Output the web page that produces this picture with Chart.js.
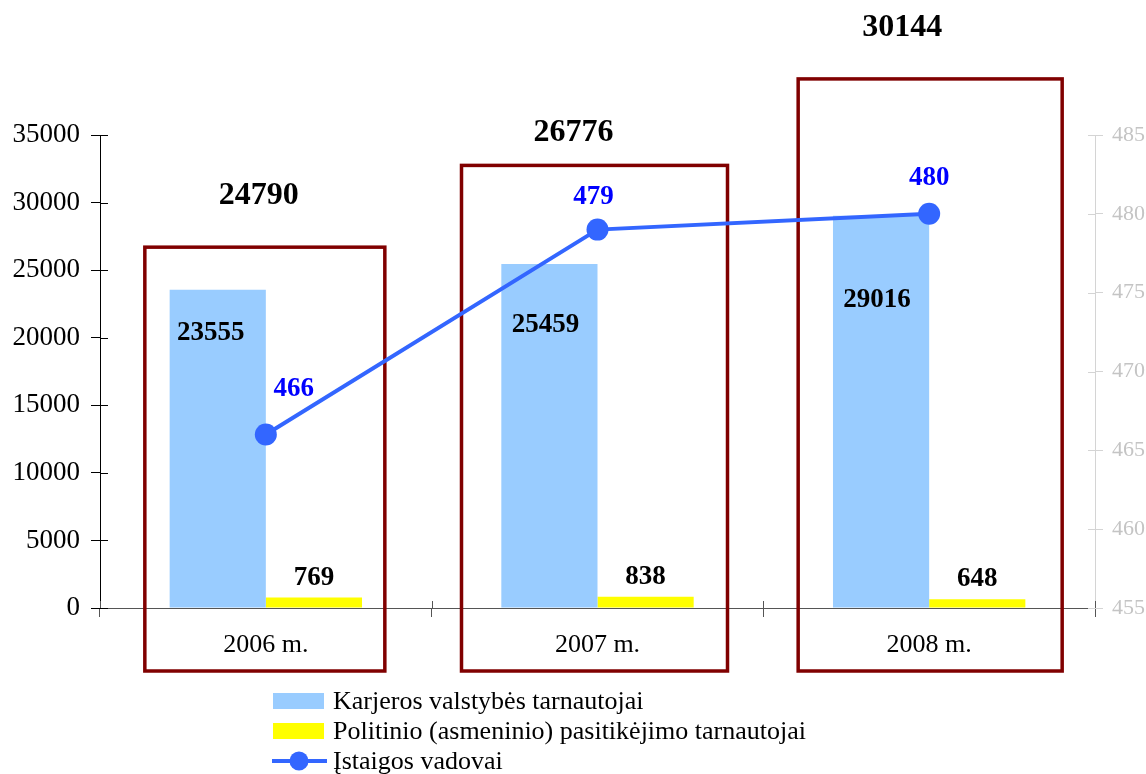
<!DOCTYPE html>
<html><head><meta charset="utf-8">
<script src="https://cdn.jsdelivr.net/npm/chart.js@4/dist/chart.umd.min.js"></script>
<style>html,body{margin:0;padding:0;background:#fff;}</style>
</head><body>
<canvas id="c" width="1146" height="774"></canvas>
<script>
// ---- data ----
const categories = ['2006 m.', '2007 m.', '2008 m.'];
const careerServants = [23555, 25459, 29016];
const politicalServants = [769, 838, 648];
const heads = [466, 479, 480];
const totals = [24790, 26776, 30144];
const seriesNames = ['Karjeros valstybės tarnautojai', 'Politinio (asmeninio) pasitikėjimo tarnautojai', 'Įstaigos vadovai'];
const leftAxis = {min: 0, max: 35000, step: 5000};
const rightAxis = {min: 455, max: 485, step: 5};

// ---- styles ----
const FONT = "'Liberation Serif', 'Times New Roman', serif";
const BLUE_BAR = '#99ccff';
const YELLOW_BAR = '#ffff00';
const LINE = '#3366ff';
const BOX = '#800000';

// decorative boxes and label placement (styling only)
const deco = {
  boxTopValue: [26700, 32750, 39150],
  boxX: [[-121, 119], [-136, 130], [-131, 133]],
  boxBottomBelowAxis: 63,
  totalOffset: [[-7, -51], [-24, -33], [-27, -51]],
  careerOffset: [[-7, 43], [-4, 61], [-4, 84]],
  headOffset: [[28, -46], [-4, -33], [0, -36]]
};

const decoPlugin = {
  id: 'deco',
  beforeDatasetsDraw(chart) {
    const ctx = chart.ctx, x = chart.scales.x, y = chart.scales.y, y1 = chart.scales.y1;
    const ca = chart.chartArea;
    ctx.save();
    // inner halves of the crossing tick marks
    ctx.lineWidth = 1;
    ctx.strokeStyle = '#000';
    y.ticks.forEach(t => { const py = Math.round(y.getPixelForValue(t.value)) + 0.5; ctx.beginPath(); ctx.moveTo(ca.left, py); ctx.lineTo(ca.left + 8, py); ctx.stroke(); });
    ctx.strokeStyle = '#d4d4d4';
    y1.ticks.forEach(t => { const py = Math.round(y1.getPixelForValue(t.value)) + 0.5; ctx.beginPath(); ctx.moveTo(ca.right - 7, py); ctx.lineTo(ca.right, py); ctx.stroke(); });
    ctx.strokeStyle = '#555';
    const half = (x.getPixelForValue(1) - x.getPixelForValue(0)) / 2;
    for (let i = 0; i <= categories.length; i++) {
      const px = Math.round(x.getPixelForValue(i) - half) + 0.5;
      ctx.beginPath(); ctx.moveTo(px, ca.bottom - 7); ctx.lineTo(px, ca.bottom); ctx.stroke();
    }
    // boxes
    ctx.strokeStyle = BOX; ctx.lineWidth = 3.5;
    categories.forEach((c, i) => {
      const cx = x.getPixelForValue(i);
      const top = y.getPixelForValue(deco.boxTopValue[i]);
      const bottom = y.getPixelForValue(0) + deco.boxBottomBelowAxis;
      ctx.strokeRect(cx + deco.boxX[i][0], top, deco.boxX[i][1] - deco.boxX[i][0], bottom - top);
    });
    ctx.restore();
  },
  afterDatasetsDraw(chart) {
    const ctx = chart.ctx, x = chart.scales.x, y = chart.scales.y;
    ctx.save();
    ctx.textAlign = 'center'; ctx.textBaseline = 'middle';
    const m0 = chart.getDatasetMeta(0), m1 = chart.getDatasetMeta(1), m2 = chart.getDatasetMeta(2);
    ctx.font = 'bold 27px ' + FONT; ctx.fillStyle = '#000';
    careerServants.forEach((v, i) => {
      const el = m0.data[i];
      ctx.fillText(String(v), el.x + deco.careerOffset[i][0], el.y + deco.careerOffset[i][1]);
    });
    politicalServants.forEach((v, i) => {
      const el = m1.data[i];
      ctx.fillText(String(v), el.x, el.y - 20);
    });
    ctx.fillStyle = '#0000ff';
    heads.forEach((v, i) => {
      const el = m2.data[i];
      ctx.fillText(String(v), el.x + deco.headOffset[i][0], el.y + deco.headOffset[i][1]);
    });
    ctx.fillStyle = '#000'; ctx.font = 'bold 32px ' + FONT;
    totals.forEach((v, i) => {
      const cx = x.getPixelForValue(i);
      const top = y.getPixelForValue(deco.boxTopValue[i]);
      ctx.fillText(String(v), cx + deco.totalOffset[i][0], top + deco.totalOffset[i][1]);
    });
    ctx.restore();
  },
  afterDraw(chart) {
    // legend, stacked vertically
    const ctx = chart.ctx;
    ctx.save();
    const lx = 273, tx = 333, rows = [701, 731, 761];
    ctx.font = '26px ' + FONT; ctx.textBaseline = 'middle'; ctx.textAlign = 'left';
    chart.data.datasets.forEach((ds, i) => {
      const yy = rows[i];
      if (ds.type === 'line') {
        ctx.strokeStyle = ds.borderColor; ctx.lineWidth = 4;
        ctx.beginPath(); ctx.moveTo(lx - 1, yy); ctx.lineTo(lx + 54, yy); ctx.stroke();
        ctx.fillStyle = ds.borderColor;
        ctx.beginPath(); ctx.arc(lx + 26, yy, 9.5, 0, Math.PI * 2); ctx.fill();
      } else {
        ctx.fillStyle = ds.backgroundColor;
        ctx.fillRect(lx, yy - 8, 51, 16);
      }
      ctx.fillStyle = '#000';
      ctx.fillText(ds.label, tx, yy + 1);
    });
    ctx.restore();
  }
};

new Chart(document.getElementById('c'), {
  data: {
    labels: categories,
    datasets: [
      {type: 'bar', label: seriesNames[0], data: careerServants, backgroundColor: BLUE_BAR, yAxisID: 'y', order: 2,
       categoryPercentage: 0.58, barPercentage: 1.0},
      {type: 'bar', label: seriesNames[1], data: politicalServants, backgroundColor: YELLOW_BAR, yAxisID: 'y', order: 2,
       categoryPercentage: 0.58, barPercentage: 1.0},
      {type: 'line', label: seriesNames[2], data: heads, borderColor: LINE, backgroundColor: LINE, borderWidth: 4,
       pointRadius: 11, pointHoverRadius: 11, pointBackgroundColor: LINE, pointBorderWidth: 0, tension: 0, yAxisID: 'y1', order: 1}
    ]
  },
  options: {
    responsive: false,
    animation: false,
    layout: {padding: {top: 135, left: 0, right: 0, bottom: 0}},
    plugins: {legend: {display: false}, tooltip: {enabled: false}},
    scales: {
      x: {
        grid: {drawOnChartArea: false, offset: true, tickLength: 9, color: '#555'},
        border: {color: '#555', width: 1},
        ticks: {font: {family: FONT, size: 26}, color: '#000', padding: 13},
        afterFit(s) { s.height = 166; }
      },
      y: {
        position: 'left', min: leftAxis.min, max: leftAxis.max,
        ticks: {stepSize: leftAxis.step, font: {family: FONT, size: 27}, color: '#000', padding: 11,
                callback: v => String(v)},
        grid: {drawOnChartArea: false, tickLength: 9, color: '#000'},
        border: {color: '#000', width: 1},
        afterFit(s) { s.width = 100; }
      },
      y1: {
        position: 'right', min: rightAxis.min, max: rightAxis.max,
        ticks: {stepSize: rightAxis.step, font: {family: FONT, size: 22}, color: '#c4c4c4', padding: 9,
                callback: v => String(v)},
        grid: {drawOnChartArea: false, tickLength: 8, color: '#d4d4d4'},
        border: {color: '#d4d4d4', width: 1},
        afterFit(s) { s.width = 51; }
      }
    }
  },
  plugins: [decoPlugin]
});
</script>
</body></html>
